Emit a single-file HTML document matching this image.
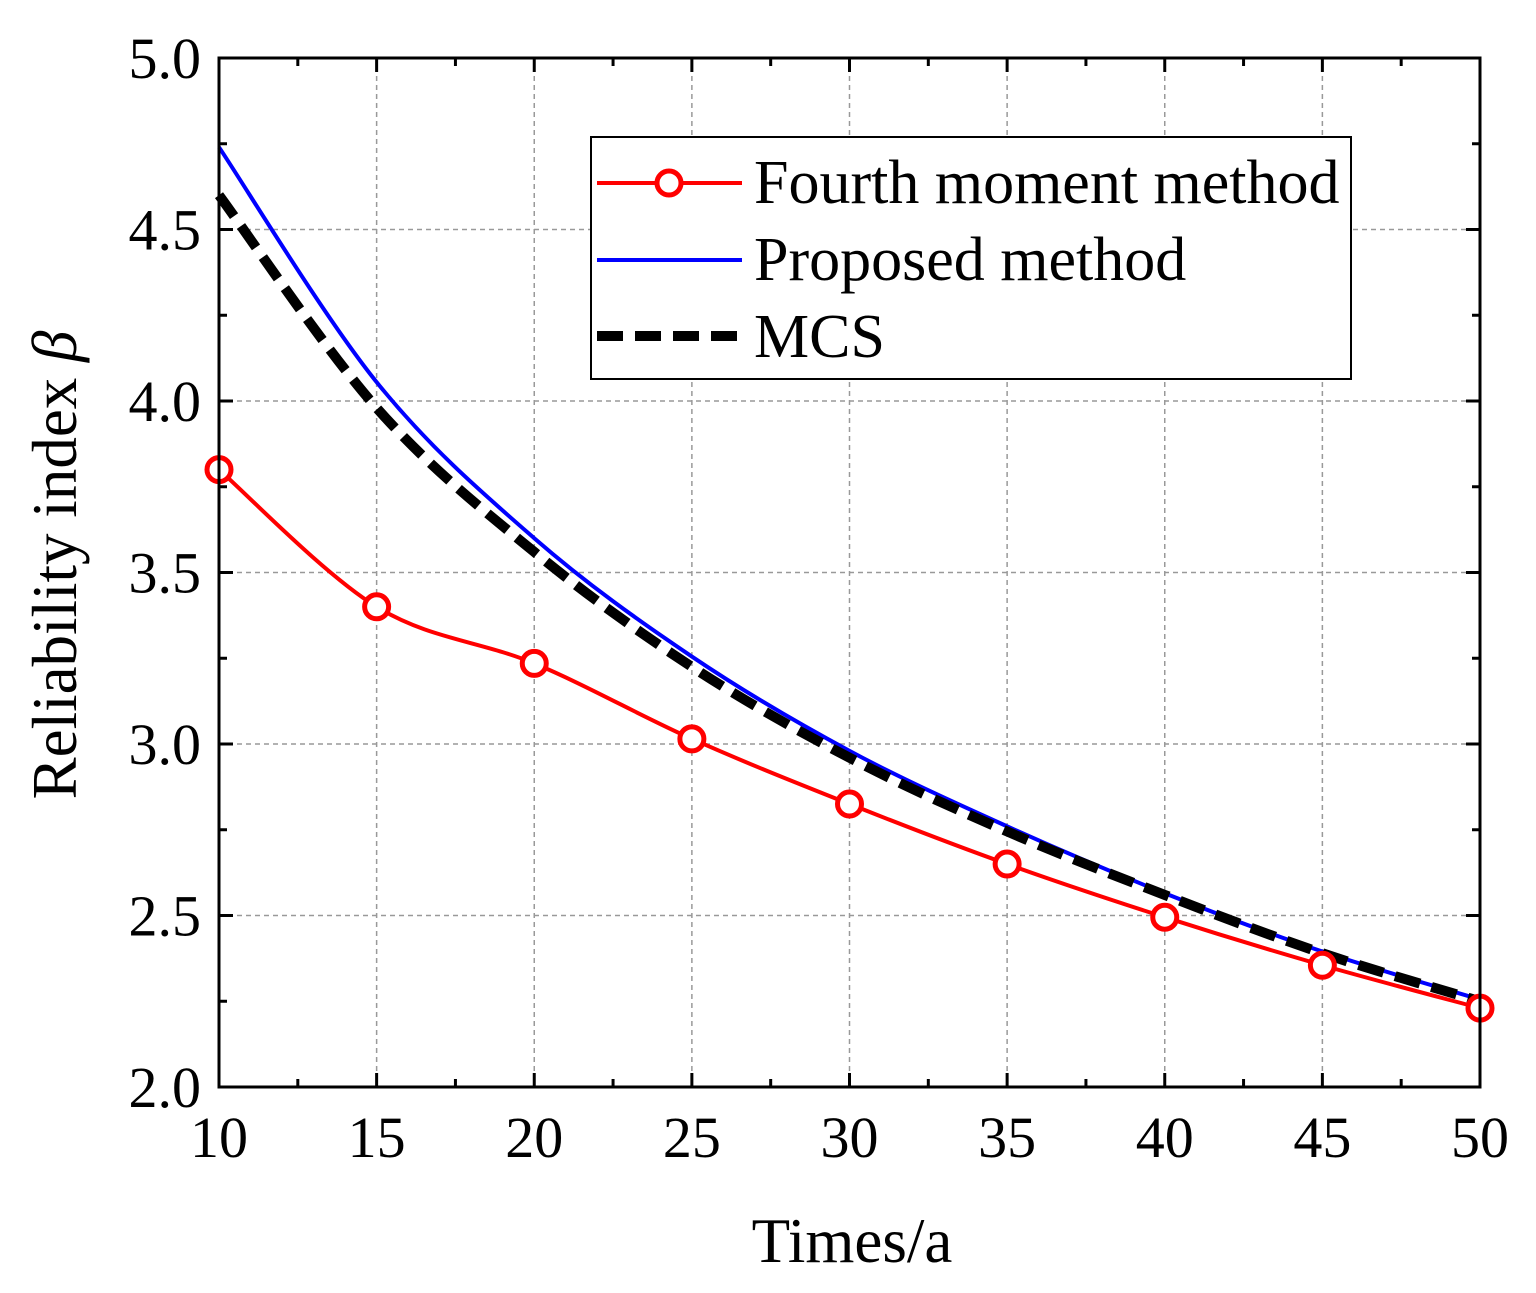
<!DOCTYPE html>
<html><head><meta charset="utf-8"><style>
html,body{margin:0;padding:0;background:#fff}
svg text{font-family:"Liberation Serif",serif;fill:#000}
</style></head><body>
<svg id="s" width="1536" height="1288" xmlns="http://www.w3.org/2000/svg"></svg>
<script>
const s=document.getElementById('s');
const X=t=>219+(t-10)*31.525, Y=v=>1087-(v-2)*343;
let h='';
for(let t=15;t<50;t+=5)h+=`<line x1="${X(t)}" y1="58" x2="${X(t)}" y2="1087" stroke="#999" stroke-width="1.5" stroke-dasharray="5,4"/>`;
for(let v=2.5;v<5;v+=0.5)h+=`<line x1="219" y1="${Y(v)}" x2="1480" y2="${Y(v)}" stroke="#999" stroke-width="1.5" stroke-dasharray="5,4"/>`;
for(let t=10;t<=50;t+=2.5){const L=(t%5==0)?14:8,x=X(t);
h+=`<line x1="${x}" y1="1087" x2="${x}" y2="${1087-L}" stroke="#000" stroke-width="3"/><line x1="${x}" y1="58" x2="${x}" y2="${58+L}" stroke="#000" stroke-width="3"/>`;
if(t%5==0)h+=`<text x="${x}" y="1157" font-size="58" text-anchor="middle">${t}</text>`;}
for(let v=2;v<=5.001;v+=0.25){const maj=Math.abs(v*2-Math.round(v*2))<1e-6,L=maj?14:8,y=Y(v);
h+=`<line x1="219" y1="${y}" x2="${219+L}" y2="${y}" stroke="#000" stroke-width="3"/><line x1="1480" y1="${y}" x2="${1480-L}" y2="${y}" stroke="#000" stroke-width="3"/>`;
if(maj)h+=`<text x="201" y="${y+20}" font-size="58" text-anchor="end">${v.toFixed(1)}</text>`;}
function path(d){const p=d.map((v,i)=>[X(10+5*i),Y(v)]);let str=`M${p[0]}`;
for(let i=0;i<p.length-1;i++){const p0=p[i-1]||p[i],p1=p[i],p2=p[i+1],p3=p[i+2]||p2;
str+=`C${p1[0]+(p2[0]-p0[0])/6},${p1[1]+(p2[1]-p0[1])/6} ${p2[0]-(p3[0]-p1[0])/6},${p2[1]-(p3[1]-p1[1])/6} ${p2[0]},${p2[1]}`;}return str;}
const red=[3.80,3.40,3.235,3.015,2.825,2.65,2.495,2.355,2.23];
const blue=[4.74,4.055,3.6,3.255,2.98,2.76,2.565,2.395,2.255];
const blk=[4.6,3.98,3.56,3.225,2.96,2.745,2.56,2.39,2.25];
h+=`<path d="${path(red)}" fill="none" stroke="#f00" stroke-width="4"/>`;
h+=`<path d="${path(blue)}" fill="none" stroke="#00f" stroke-width="4"/>`;
h+=`<path d="${path(blk)}" fill="none" stroke="#000" stroke-width="10" stroke-dasharray="26,12"/>`;
red.forEach((v,i)=>h+=`<circle cx="${X(10+5*i)}" cy="${Y(v)}" r="12" fill="#fff" stroke="#f00" stroke-width="5"/>`);
h+=`<rect x="219" y="58" width="1261" height="1029" fill="none" stroke="#000" stroke-width="3"/>`;
h+=`<rect x="591" y="137" width="760" height="242" fill="#fff" stroke="#000" stroke-width="2"/>`;
h+=`<line x1="597" y1="183" x2="742" y2="183" stroke="#f00" stroke-width="4"/><circle cx="669" cy="183" r="12" fill="#fff" stroke="#f00" stroke-width="5"/>`;
h+=`<line x1="597" y1="260" x2="742" y2="260" stroke="#00f" stroke-width="4"/>`;
h+=`<line x1="597" y1="336" x2="742" y2="336" stroke="#000" stroke-width="10" stroke-dasharray="26,12"/>`;
h+=`<text x="754" y="203" font-size="62">Fourth moment method</text><text x="754" y="280" font-size="62">Proposed method</text><text x="754" y="357" font-size="62">MCS</text>`;
h+=`<text x="852" y="1262" font-size="63" text-anchor="middle">Times/a</text>`;
h+=`<text transform="translate(76,565) rotate(-90)" font-size="63" text-anchor="middle">Reliability index <tspan font-style="italic">β</tspan></text>`;
s.innerHTML=h;
</script>
</body></html>
